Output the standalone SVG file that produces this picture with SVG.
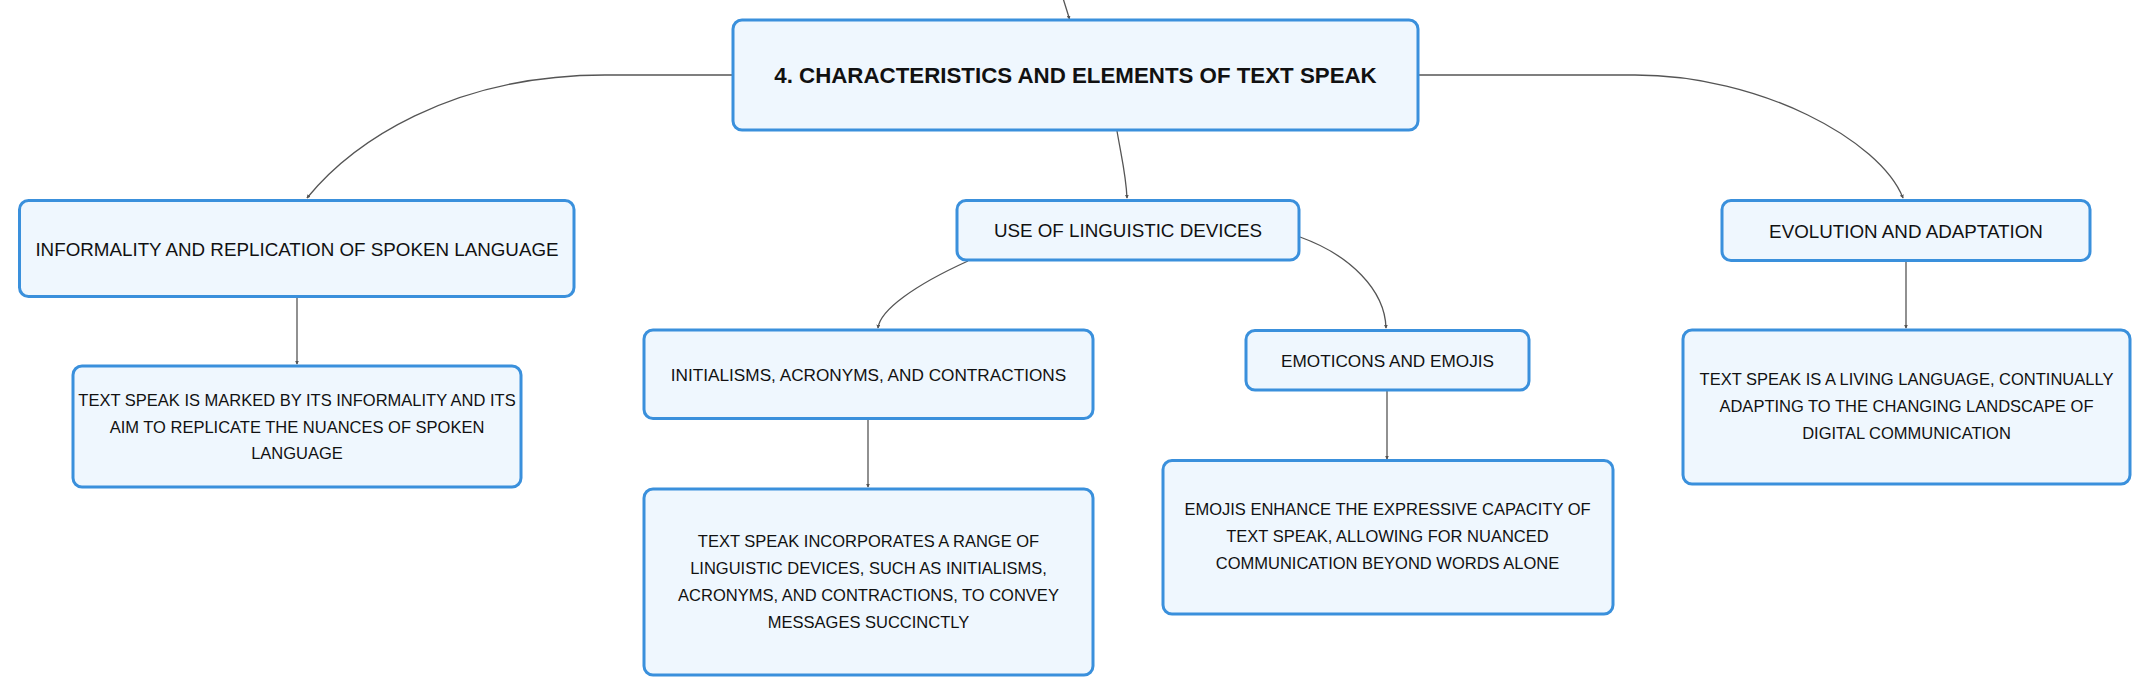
<svg xmlns="http://www.w3.org/2000/svg" width="2151" height="696" viewBox="0 0 2151 696">
<defs>
<style>
.box{fill:#EFF7FE;stroke:#3A90DC;stroke-width:3}
.t{font-family:"Liberation Sans",Arial,sans-serif;fill:#111;text-anchor:middle}
.title{font-size:22.3px;font-weight:700}
.l1{font-size:18.8px}
.l2{font-size:17.2px}
.b{font-size:16.5px}
.c{fill:none;stroke:#555;stroke-width:1.3}
</style>
<marker id="ah" viewBox="0 0 6 6" refX="5" refY="3" markerWidth="4" markerHeight="4" orient="auto" markerUnits="userSpaceOnUse">
<path d="M0,0 L6,3 L0,6 z" fill="#555"/>
</marker>
</defs>
<rect width="2151" height="696" fill="#fff"/>
<g id="connectors">
<path class="c" d="M1062,-5 L1069.5,19" marker-end="url(#ah)"/>
<path class="c" d="M733,75 L605,75 C450,75 352,143 307,198" marker-end="url(#ah)"/>
<path class="c" d="M1418,75 L1635,75 C1760,75 1880,140 1903,198" marker-end="url(#ah)"/>
<path class="c" d="M1117,131 C1122,160 1126,175 1127,198" marker-end="url(#ah)"/>
<path class="c" d="M968,261 C915,285 880,310 878,328" marker-end="url(#ah)"/>
<path class="c" d="M1300,237 C1350,255 1385,290 1386,328" marker-end="url(#ah)"/>
<path class="c" d="M297,297 L297,364" marker-end="url(#ah)"/>
<path class="c" d="M868,419 L868,487" marker-end="url(#ah)"/>
<path class="c" d="M1387,390 L1387,459" marker-end="url(#ah)"/>
<path class="c" d="M1906,261 L1906,328" marker-end="url(#ah)"/>
</g>
<g id="main">
<rect class="box" x="733" y="20" width="685" height="110" rx="9"/>
<text class="t title" x="1075.5" y="83">4. CHARACTERISTICS AND ELEMENTS OF TEXT SPEAK</text>
</g>
<g id="informality">
<rect class="box" x="19.5" y="200.5" width="554.5" height="96" rx="9"/>
<text class="t l1" x="297" y="255.5">INFORMALITY AND REPLICATION OF SPOKEN LANGUAGE</text>
</g>
<g id="informality-detail">
<rect class="box" x="73" y="366" width="448" height="121" rx="9"/>
<text class="t b" x="297" y="405.5">TEXT SPEAK IS MARKED BY ITS INFORMALITY AND ITS</text>
<text class="t b" x="297" y="432.5">AIM TO REPLICATE THE NUANCES OF SPOKEN</text>
<text class="t b" x="297" y="459.3">LANGUAGE</text>
</g>
<g id="devices">
<rect class="box" x="957" y="200.5" width="342" height="59.5" rx="9"/>
<text class="t l1" x="1128" y="237.3">USE OF LINGUISTIC DEVICES</text>
</g>
<g id="initialisms">
<rect class="box" x="644" y="330" width="449" height="88.5" rx="9"/>
<text class="t l2" x="868.5" y="380.5">INITIALISMS, ACRONYMS, AND CONTRACTIONS</text>
</g>
<g id="initialisms-detail">
<rect class="box" x="644" y="489" width="449" height="186" rx="9"/>
<text class="t b" x="868.5" y="546.7">TEXT SPEAK INCORPORATES A RANGE OF</text>
<text class="t b" x="868.5" y="573.7">LINGUISTIC DEVICES, SUCH AS INITIALISMS,</text>
<text class="t b" x="868.5" y="601">ACRONYMS, AND CONTRACTIONS, TO CONVEY</text>
<text class="t b" x="868.5" y="628">MESSAGES SUCCINCTLY</text>
</g>
<g id="emoticons">
<rect class="box" x="1246" y="330.5" width="283" height="59.5" rx="9"/>
<text class="t l2" x="1387.5" y="366.7">EMOTICONS AND EMOJIS</text>
</g>
<g id="emoticons-detail">
<rect class="box" x="1163" y="460.5" width="450" height="153.5" rx="9"/>
<text class="t b" x="1387.5" y="515.3">EMOJIS ENHANCE THE EXPRESSIVE CAPACITY OF</text>
<text class="t b" x="1387.5" y="542.3">TEXT SPEAK, ALLOWING FOR NUANCED</text>
<text class="t b" x="1387.5" y="569.3">COMMUNICATION BEYOND WORDS ALONE</text>
</g>
<g id="evolution">
<rect class="box" x="1722" y="200.5" width="368" height="60" rx="9"/>
<text class="t l1" x="1906" y="237.5">EVOLUTION AND ADAPTATION</text>
</g>
<g id="evolution-detail">
<rect class="box" x="1683" y="330" width="447" height="154" rx="9"/>
<text class="t b" x="1906.5" y="385">TEXT SPEAK IS A LIVING LANGUAGE, CONTINUALLY</text>
<text class="t b" x="1906.5" y="412.3">ADAPTING TO THE CHANGING LANDSCAPE OF</text>
<text class="t b" x="1906.5" y="439.3">DIGITAL COMMUNICATION</text>
</g>
</svg>
